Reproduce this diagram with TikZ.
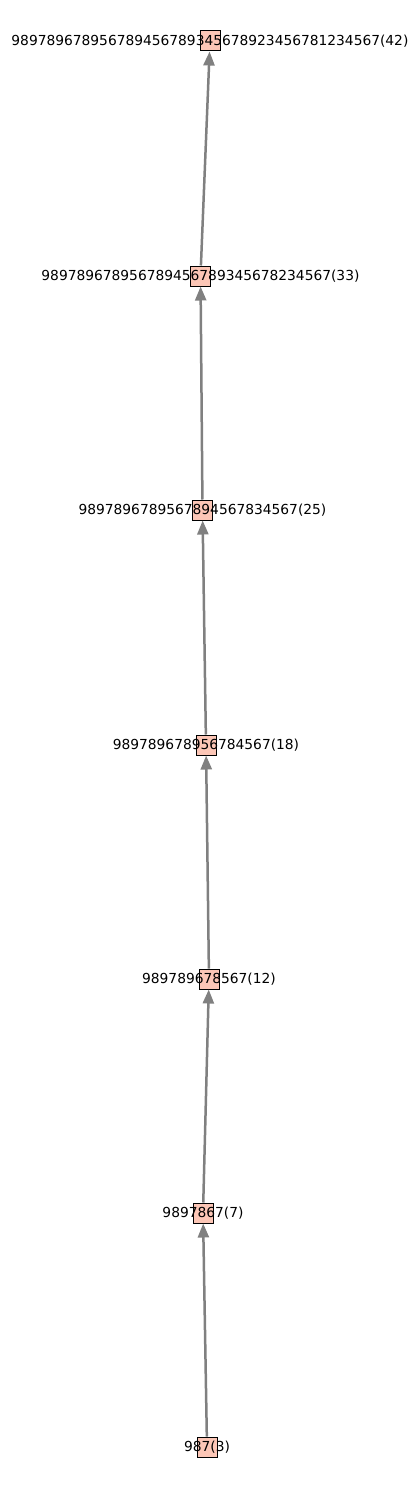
\documentclass[tikz,border=0pt]{standalone}
\usepackage{fontspec}
\setmainfont{DejaVu Sans}
\usetikzlibrary{arrows.meta}
\definecolor{vertexfill}{RGB}{252,198,182}
\definecolor{edgegray}{RGB}{128,128,128}

\tikzset{
    vertex/.style={draw=black, line width=1pt, fill=vertexfill, minimum size=20pt, inner sep=0pt},
    vlabel/.style={inner sep=0pt, font=\fontsize{13.8}{16}\selectfont},
    link/.style={draw=edgegray, line width=2.5pt, -{Triangle[length=14pt,width=11pt]}}
}

\begin{document}
\begin{tikzpicture}[x=1pt,y=-1pt]
    \useasboundingbox (0,0) rectangle (419,1490);
    % vertices
    \node[vertex] (n42) at (210,41) {};
    \node[vertex] (n33) at (200.5,276) {};
    \node[vertex] (n25) at (202.5,510) {};
    \node[vertex] (n18) at (206,745) {};
    \node[vertex] (n12) at (209,979) {};
    \node[vertex] (n7) at (203,1213) {};
    \node[vertex] (n3) at (207,1447) {};
    % edges
    \draw[link] (n3) -- (n7);
    \draw[link] (n7) -- (n12);
    \draw[link] (n12) -- (n18);
    \draw[link] (n18) -- (n25);
    \draw[link] (n25) -- (n33);
    \draw[link] (n33) -- (n42);
    % labels
    \node[vlabel] at (n42) {989789678956789456789345678923456781234567(42)};
    \node[vlabel] at (n33) {989789678956789456789345678234567(33)};
    \node[vlabel] at (n25) {9897896789567894567834567(25)};
    \node[vlabel] at (n18) {989789678956784567(18)};
    \node[vlabel] at (n12) {989789678567(12)};
    \node[vlabel] at (n7) {9897867(7)};
    \node[vlabel] at (n3) {987(3)};
\end{tikzpicture}
\end{document}
